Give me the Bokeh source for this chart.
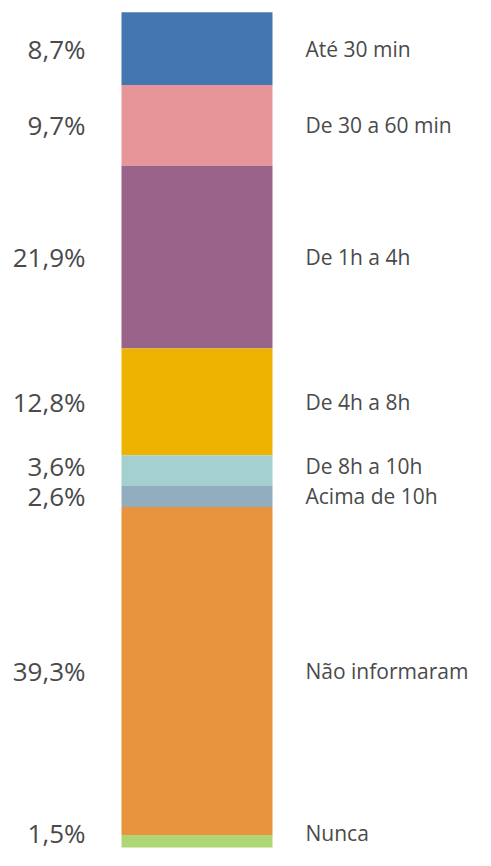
from bokeh.plotting import figure
from bokeh.models import ColumnDataSource, Range1d
from bokeh.core.properties import value
from bokeh.embed import file_html
from bokeh.resources import INLINE

# ---- data (top to bottom) ----
categories = ["Até 30 min", "De 30 a 60 min", "De 1h a 4h", "De 4h a 8h",
              "De 8h a 10h", "Acima de 10h", "Não informaram", "Nunca"]
percents = [8.7, 9.7, 21.9, 12.8, 3.6, 2.6, 39.3, 1.5]
pct_labels = ["8,7%", "9,7%", "21,9%", "12,8%", "3,6%", "2,6%", "39,3%", "1,5%"]
colors = ["#4477B2", "#E89599", "#9A6389", "#EEB300",
          "#A4D0D0", "#92AEBE", "#E8933D", "#AFD574"]

W, H = 475, 850
TOP_PAD = 11.8
PX_PER_PCT = (847 - TOP_PAD) / sum(percents)

tops, bottoms, centers = [], [], []
acc = 0.0
for v in percents:
    tops.append(acc)
    bottoms.append(acc + v)
    centers.append(acc + v / 2)
    acc += v

# y range in percent units, flipped (0 at top)
y_start = -TOP_PAD / PX_PER_PCT
y_end = y_start + H / PX_PER_PCT

# label positions: keep a minimum gap between neighbours and stay inside frame
min_gap = 30 / PX_PER_PCT
label_y = list(centers)
for i in range(len(label_y) - 2, -1, -1):
    if label_y[i + 1] - label_y[i] < min_gap:
        label_y[i] = label_y[i + 1] - min_gap
max_y = y_end - 18 / PX_PER_PCT
label_y = [min(y, max_y) for y in label_y]

src = ColumnDataSource(dict(top=tops, bottom=bottoms, color=colors,
                            cat=categories, pct=pct_labels, ly=label_y))

p = figure(width=W, height=H, output_backend="svg", toolbar_location=None,
           x_range=Range1d(0, W), y_range=Range1d(y_end, y_start),
           min_border=0, outline_line_color=None)
p.axis.visible = False
p.xgrid.visible = False
p.ygrid.visible = False
p.background_fill_color = "white"
p.border_fill_color = "white"

p.quad(left=121, right=272, top="top", bottom="bottom", fill_color="color",
       line_color=None, source=src)

p.text(x=85, y="ly", text="pct", source=src, text_align="right",
       text_baseline="middle", text_font=value("Open Sans"),
       text_font_size="26px", text_color="#4a4a4a")
p.text(x=305, y="ly", text="cat", source=src, text_align="left",
       text_baseline="middle", text_font=value("Open Sans"),
       text_font_size="21px", text_color="#4a4a4a")

open("out.html", "w").write(file_html(p, INLINE))
